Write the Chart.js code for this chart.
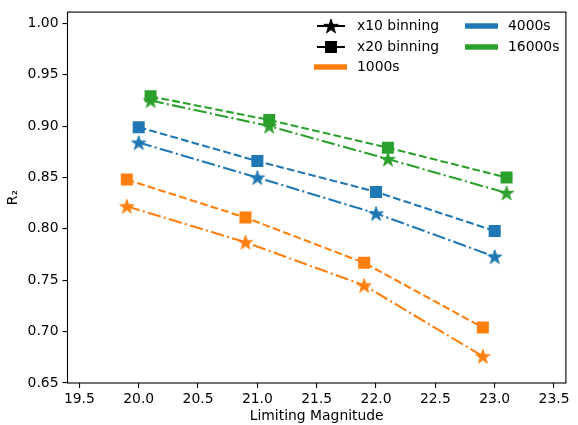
<!DOCTYPE html>
<html>
<head>
<meta charset="utf-8">
<script src="https://cdn.jsdelivr.net/npm/chart.js@4.4.0/dist/chart.umd.min.js"></script>
<style>
  html, body { margin: 0; padding: 0; background: #fff; }
  #wrap { width: 578px; height: 425px; }
</style>
</head>
<body>
<div id="wrap"><canvas id="r2chart" width="578" height="425"></canvas></div>
<script>
// limiting magnitudes (offset a bit per exposure so markers don't overlap)
const mag1000 = [19.9, 20.9, 21.9, 22.9];
const mag4000 = [20.0, 21.0, 22.0, 23.0];
const mag16000 = [20.1, 21.1, 22.1, 23.1];

// R2 values, x10 binning (stars) and x20 binning (squares)
const r2_1000_x10 = [0.822, 0.787, 0.745, 0.676];
const r2_1000_x20 = [0.848, 0.811, 0.767, 0.704];
const r2_4000_x10 = [0.884, 0.850, 0.815, 0.773];
const r2_4000_x20 = [0.899, 0.866, 0.836, 0.798];
const r2_16000_x10 = [0.925, 0.900, 0.868, 0.835];
const r2_16000_x20 = [0.929, 0.906, 0.879, 0.850];

const xTicks = [19.5, 20.0, 20.5, 21.0, 21.5, 22.0, 22.5, 23.0, 23.5];
const yTicks = [0.65, 0.70, 0.75, 0.80, 0.85, 0.90, 0.95, 1.00];

const orange = '#ff7f0e';
const blue = '#1f77b4';
const green = '#2ca02c';
const FONT = '"DejaVu Sans", sans-serif';
const FS = 13.9;

function starPath(ctx, cx, cy, R) {
    const r = R * 0.381966;
    ctx.beginPath();
    for (let i = 0; i < 10; i++) {
        const rad = i % 2 === 0 ? R : r;
        const a = -Math.PI / 2 + i * Math.PI / 5;
        const px = cx + rad * Math.cos(a);
        const py = cy + rad * Math.sin(a);
        if (i === 0) ctx.moveTo(px, py); else ctx.lineTo(px, py);
    }
    ctx.closePath();
}

function makeStar(color) {
    const c = document.createElement('canvas');
    c.width = 20; c.height = 20;
    const ctx = c.getContext('2d');
    ctx.fillStyle = color;
    ctx.strokeStyle = color;
    ctx.lineWidth = 1;
    starPath(ctx, 10, 10.7, 7.6);
    ctx.fill();
    ctx.stroke();
    return c;
}

function pts(xs, ys) {
    return xs.map((x, i) => ({x: x, y: ys[i]}));
}

const dashed = [7.7, 3.3];
const dashdot = [13.3, 3.3, 2.1, 3.3];

function starSet(xs, ys, color) {
    return {
        data: pts(xs, ys),
        borderColor: color,
        backgroundColor: color,
        borderWidth: 2.1,
        borderDash: dashdot,
        pointStyle: makeStar(color),
        pointRadius: 10,
        pointHoverRadius: 10,
        tension: 0
    };
}

function squareSet(xs, ys, color) {
    return {
        data: pts(xs, ys),
        borderColor: color,
        backgroundColor: color,
        borderWidth: 2.1,
        borderDash: dashed,
        pointStyle: 'rect',
        pointRadius: 8.5,
        pointHoverRadius: 8.5,
        pointBorderWidth: 0,
        tension: 0
    };
}

const framePlugin = {
    id: 'frame',
    afterDraw(chart) {
        const a = chart.chartArea;
        const ctx = chart.ctx;
        ctx.save();
        ctx.strokeStyle = '#000';
        ctx.lineWidth = 1.1;
        ctx.strokeRect(a.left, a.top, a.right - a.left, a.bottom - a.top);

        // legend
        ctx.font = FS + 'px ' + FONT;
        ctx.fillStyle = '#000';
        ctx.textBaseline = 'middle';
        ctx.textAlign = 'left';
        const rows = [26, 47, 67];
        ctx.strokeStyle = '#000';
        ctx.lineWidth = 2.1;
        ctx.beginPath();
        ctx.moveTo(317, rows[0]); ctx.lineTo(345, rows[0]);
        ctx.moveTo(317, rows[1]); ctx.lineTo(345, rows[1]);
        ctx.stroke();
        ctx.lineWidth = 1;
        starPath(ctx, 331, rows[0] + 0.7, 7.6);
        ctx.fill();
        ctx.stroke();
        ctx.fillRect(325, rows[1] - 6, 12, 12);
        ctx.fillText('x10 binning', 357, rows[0]);
        ctx.fillText('x20 binning', 357, rows[1]);
        ctx.lineWidth = 5.5;
        const col = [[orange, 314, rows[2], '1000s', 357],
                     [blue, 465, rows[0], '4000s', 508],
                     [green, 465, rows[1], '16000s', 508]];
        col.forEach(e => {
            ctx.strokeStyle = e[0];
            ctx.beginPath();
            ctx.moveTo(e[1], e[2]); ctx.lineTo(e[1] + 33, e[2]);
            ctx.stroke();
            ctx.fillStyle = '#000';
            ctx.fillText(e[3], e[4], e[2]);
        });
        ctx.restore();
    }
};

new Chart(document.getElementById('r2chart'), {
    type: 'line',
    data: {
        datasets: [
            starSet(mag1000, r2_1000_x10, orange),
            squareSet(mag1000, r2_1000_x20, orange),
            starSet(mag4000, r2_4000_x10, blue),
            squareSet(mag4000, r2_4000_x20, blue),
            starSet(mag16000, r2_16000_x10, green),
            squareSet(mag16000, r2_16000_x20, green)
        ]
    },
    options: {
        responsive: false,
        animation: false,
        events: [],
        layout: {
            padding: {left: 0, right: 5.5, top: 7, bottom: 0}
        },
        plugins: {
            legend: {display: false},
            tooltip: {enabled: false}
        },
        scales: {
            x: {
                type: 'linear',
                min: 19.4,
                max: 23.6,
                afterBuildTicks: s => { s.ticks = xTicks.map(v => ({value: v})); },
                afterFit: s => { s.height = 42; s.paddingLeft = 0; s.paddingRight = 0; },
                grid: {display: true, drawOnChartArea: false, drawTicks: true, tickLength: 5, color: '#000', lineWidth: 1.1},
                border: {display: false},
                ticks: {
                    color: '#000',
                    padding: 3,
                    maxRotation: 0,
                    font: {family: FONT, size: FS},
                    callback: v => v.toFixed(1)
                },
                title: {
                    display: true,
                    text: 'Limiting Magnitude',
                    color: '#000',
                    padding: {top: -4, bottom: 0},
                    font: {family: FONT, size: FS}
                }
            },
            y: {
                min: 0.65,
                max: 1.011,
                afterBuildTicks: s => { s.ticks = yTicks.map(v => ({value: v})); },
                afterFit: s => { s.width = 67.5; s.paddingTop = 0; s.paddingBottom = 0; },
                grid: {display: true, drawOnChartArea: false, drawTicks: true, tickLength: 5, color: '#000', lineWidth: 1.1},
                border: {display: false},
                ticks: {
                    color: '#000',
                    padding: 4,
                    font: {family: FONT, size: FS},
                    callback: v => v.toFixed(2)
                },
                title: {
                    display: true,
                    text: 'R₂',
                    color: '#000',
                    padding: {top: 5, bottom: 0},
                    font: {family: FONT, size: FS}
                }
            }
        }
    },
    plugins: [framePlugin]
});
</script>
</body>
</html>
